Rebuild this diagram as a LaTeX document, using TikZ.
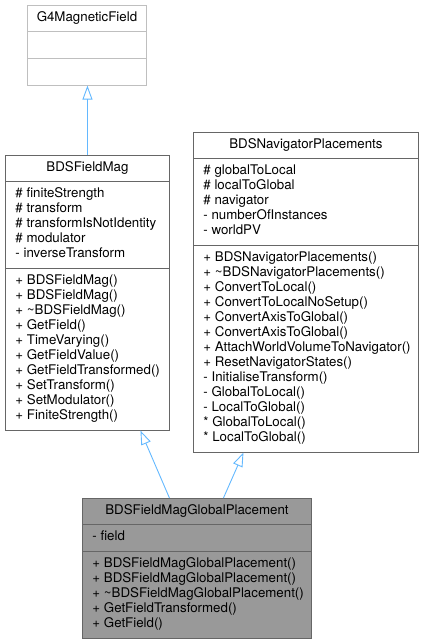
\documentclass[tikz,border=0pt]{standalone}
\usepackage{fontspec}
\setmainfont{TeX Gyre Heros}
\usepackage{tikz}
\usetikzlibrary{shapes.multipart,arrows.meta}

\definecolor{edgegray}{HTML}{666666}
\definecolor{paleedge}{HTML}{BFBFBF}
\definecolor{leafgray}{HTML}{999999}
\definecolor{inheritblue}{HTML}{63B8FF}

\newcommand{\umlfont}{\fontsize{13.3}{15}\selectfont}
\newcommand{\classtitle}[2]{\parbox[c][25pt][c]{#1}{\centering\strut#2}}
\newcommand{\classpart}[3]{\parbox[c][#2][c]{#1}{\raggedright\leftskip=10pt\strut#3\strut}}

\begin{document}
\begin{tikzpicture}[x=1pt, y=-1pt,
    classbox/.style={rectangle split, rectangle split parts=3, draw=edgegray, fill=white,
      inner sep=0pt, line width=0.9pt, anchor=north west, font=\umlfont},
    inherit/.style={draw=inheritblue, line width=0.9pt, -{Triangle[open, length=14pt, width=10pt]}}]
  \useasboundingbox (0,0) rectangle (424,642);

  \node[classbox, draw=paleedge] (g4field) at (27,5) {\classtitle{119pt}{G4MagneticField}
    \nodepart{two}\classpart{119pt}{26pt}{}
    \nodepart{three}\classpart{119pt}{26pt}{}};

  \node[classbox] (fieldmag) at (5,155) {\classtitle{164pt}{BDSFieldMag}
    \nodepart{two}\classpart{164pt}{86pt}{\# finiteStrength\\\# transform\\\# transformIsNotIdentity\\\# modulator\\- inverseTransform}
    \nodepart{three}\classpart{164pt}{161pt}{+ BDSFieldMag()\\+ BDSFieldMag()\\+ \textasciitilde BDSFieldMag()\\+ GetField()\\+ TimeVarying()\\+ GetFieldValue()\\+ GetFieldTransformed()\\+ SetTransform()\\+ SetModulator()\\+ FiniteStrength()}};

  \node[classbox] (navplace) at (193,132) {\classtitle{225pt}{BDSNavigatorPlacements}
    \nodepart{two}\classpart{225pt}{86pt}{\# globalToLocal\\\# localToGlobal\\\# navigator\\- numberOfInstances\\- worldPV}
    \nodepart{three}\classpart{225pt}{206pt}{+ BDSNavigatorPlacements()\\+ \textasciitilde BDSNavigatorPlacements()\\+ ConvertToLocal()\\+ ConvertToLocalNoSetup()\\+ ConvertAxisToGlobal()\\+ ConvertAxisToGlobal()\\+ AttachWorldVolumeToNavigator()\\+ ResetNavigatorStates()\\- InitialiseTransform()\\- GlobalToLocal()\\- LocalToGlobal()\\{}* GlobalToLocal()\\{}* LocalToGlobal()}};

  \node[classbox, fill=leafgray] (globalmag) at (82,498) {\classtitle{229pt}{BDSFieldMagGlobalPlacement}
    \nodepart{two}\classpart{229pt}{26pt}{- field}
    \nodepart{three}\classpart{229pt}{86pt}{+ BDSFieldMagGlobalPlacement()\\+ BDSFieldMagGlobalPlacement()\\+ \textasciitilde BDSFieldMagGlobalPlacement()\\+ GetFieldTransformed()\\+ GetField()}};

  \draw[inherit] (fieldmag.north) -- (fieldmag.north |- g4field.south);
  \draw[inherit] ([xshift=-27.5pt]globalmag.north) -- ([xshift=53pt]fieldmag.south);
  \draw[inherit] ([xshift=26.5pt]globalmag.north) -- ([xshift=-62.5pt]navplace.south);
\end{tikzpicture}
\end{document}
